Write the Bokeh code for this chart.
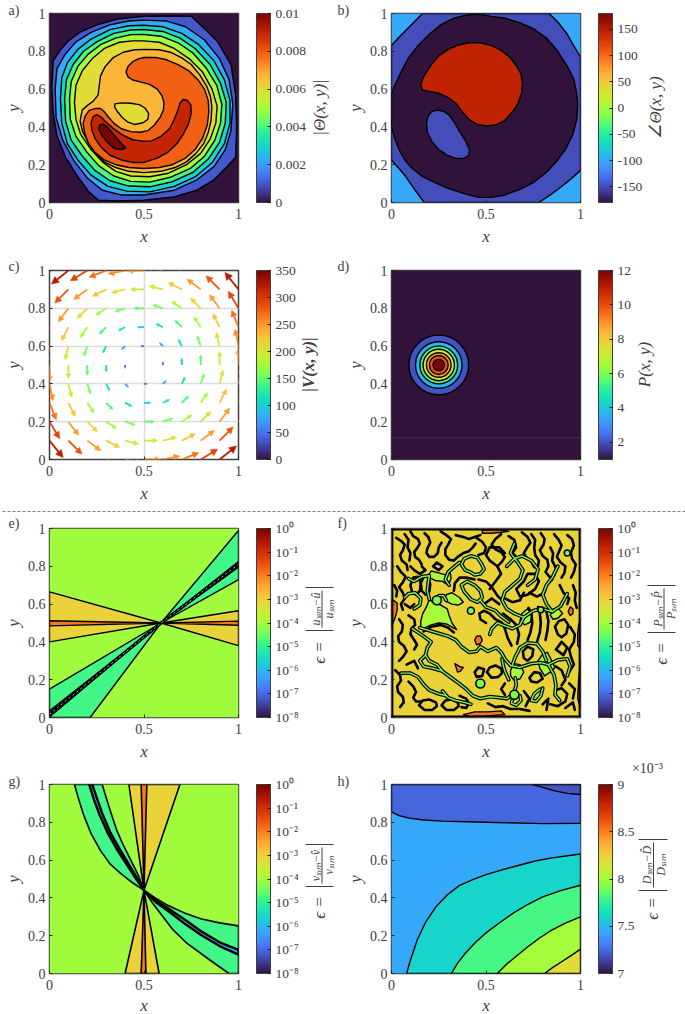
from bokeh.plotting import figure
from bokeh.core.properties import value
from bokeh.models import (ColumnDataSource, LinearColorMapper, LogColorMapper, ColorBar, FixedTicker,
                          LinearAxis, Range1d, Grid)
from bokeh.palettes import Turbo256
from bokeh.layouts import column, row
from bokeh.transform import transform
from bokeh.embed import file_html
from bokeh.resources import INLINE

SQUARE = [(0, 0), (1, 0), (1, 1), (0, 1)]

# ---------- panel a : |Theta| contour regions
A_VALUES = [0.001, 0.0022, 0.003, 0.004, 0.005, 0.006, 0.0067, 0.0079, 0.009, 0.01, 0.006]
A_R1 = [(.02,.75),(.06,.81),(.10,.855),(.16,.90),(.25,.94),(.36,.97),(.5,.985),(.64,.987),(.75,.985),(.82,.92),(.89,.85),(.96,.73),(.985,.57),(.99,.40),(.985,.24),(.94,.19),(.87,.12),(.78,.065),(.66,.03),(.5,.012),(.36,.008),(.26,.012),(.21,.055),(.15,.135),(.085,.24),(.04,.35),(.02,.47),(.012,.61)]
A_R2 = [(.03,.60),(.04,.71),(.08,.78),(.14,.85),(.22,.90),(.32,.94),(.42,.96),(.5,.965),(.62,.96),(.72,.93),(.82,.86),(.90,.76),(.95,.65),(.97,.52),(.96,.38),(.93,.28),(.87,.19),(.78,.12),(.66,.065),(.5,.04),(.38,.04),(.28,.065),(.20,.13),(.13,.22),(.07,.33),(.035,.45)]
A_R3 = [(.058,.55),(.065,.66),(.095,.74),(.15,.81),(.22,.865),(.32,.915),(.42,.935),(.5,.938),(.6,.93),(.7,.895),(.79,.835),(.87,.75),(.925,.65),(.955,.54),(.955,.42),(.925,.31),(.86,.21),(.77,.135),(.66,.085),(.53,.056),(.41,.06),(.31,.085),(.22,.145),(.15,.225),(.095,.31),(.065,.42)]
A_R4 = [(.08,.55),(.09,.65),(.125,.73),(.18,.80),(.25,.85),(.34,.895),(.43,.913),(.5,.915),(.6,.905),(.69,.87),(.77,.815),(.85,.73),(.905,.63),(.935,.53),(.93,.42),(.9,.32),(.84,.23),(.76,.16),(.65,.11),(.53,.083),(.42,.087),(.32,.115),(.24,.17),(.17,.25),(.115,.33),(.085,.43)]
A_R5 = [(.106,.55),(.115,.64),(.15,.72),(.205,.785),(.27,.835),(.35,.87),(.43,.888),(.5,.889),(.59,.88),(.68,.845),(.76,.79),(.83,.71),(.885,.62),(.912,.52),(.905,.42),(.875,.33),(.82,.245),(.745,.18),(.645,.135),(.53,.108),(.43,.112),(.34,.14),(.26,.195),(.195,.27),(.14,.35),(.11,.44)]
A_R6 = [(.132,.53),(.14,.62),(.175,.70),(.23,.765),(.29,.815),(.37,.848),(.44,.855),(.5,.855),(.58,.848),(.66,.815),(.74,.76),(.81,.69),(.86,.60),(.887,.51),(.88,.42),(.85,.335),(.80,.26),(.725,.20),(.63,.155),(.53,.136),(.43,.14),(.35,.165),(.28,.215),(.22,.28),(.165,.36),(.14,.44)]
A_R7 = [(.173,.489),(.196,.51),(.23,.535),(.257,.568),(.262,.61),(.27,.67),(.295,.72),(.335,.765),(.39,.795),(.45,.808),(.51,.81),(.58,.808),(.64,.795),(.70,.765),(.75,.73),(.795,.675),(.832,.615),(.852,.56),(.859,.505),(.855,.435),(.84,.37),(.815,.31),(.775,.26),(.725,.215),(.665,.185),(.59,.165),(.5,.158),(.42,.165),(.35,.185),(.29,.215),(.245,.26),(.205,.32),(.175,.375),(.162,.43)]
A_R8 = [(.5,.767),(.56,.768),(.62,.755),(.68,.73),(.74,.695),(.785,.65),(.82,.60),(.84,.54),(.843,.48),(.835,.41),(.81,.34),(.77,.28),(.72,.235),(.65,.20),(.58,.185),(.5,.18),(.42,.185),(.35,.20),(.29,.225),(.24,.265),(.205,.315),(.185,.37),(.178,.42),(.19,.46),(.21,.487),(.24,.497),(.27,.497),(.29,.48),(.31,.455),(.34,.42),(.38,.39),(.43,.375),(.48,.372),(.52,.38),(.555,.41),(.585,.45),(.603,.49),(.605,.53),(.595,.565),(.57,.60),(.53,.625),(.48,.638),(.44,.648),(.415,.665),(.405,.69),(.415,.72),(.44,.745),(.47,.76)]
A_R9 = [(.707,.545),(.73,.54),(.748,.515),(.75,.47),(.735,.415),(.71,.365),(.675,.312),(.625,.265),(.57,.235),(.5,.212),(.44,.212),(.38,.225),(.32,.25),(.275,.29),(.243,.335),(.225,.38),(.22,.42),(.23,.455),(.25,.465),(.27,.455),(.30,.425),(.34,.39),(.39,.355),(.44,.332),(.49,.325),(.54,.326),(.59,.35),(.635,.39),(.66,.44),(.68,.49),(.69,.525)]
A_R10 = [(.265,.41),(.285,.415),(.305,.40),(.33,.37),(.36,.335),(.402,.288),(.38,.28),(.345,.285),(.31,.315),(.28,.35),(.262,.385)]
A_R11 = [(.346,.522),(.38,.527),(.43,.525),(.475,.518),(.505,.50),(.525,.47),(.52,.44),(.495,.422),(.45,.413),(.415,.425),(.385,.45),(.36,.48),(.345,.505)]
A_RINGS = [A_R1, A_R2, A_R3, A_R4, A_R5, A_R6, A_R7, A_R8, A_R9, A_R10, A_R11]

# ---------- panel b : phase regions
B_BASE = -101
B_VALUES = [-150, -180, 145, -150]
B_R1 = [(0,.832),(.05,.885),(.10,.935),(.164,1),(.834,1),(.88,.955),(.93,.89),(.97,.82),(1,.77),(1,.17),(.95,.125),(.90,.085),(.84,.04),(.78,0),(.173,0),(.125,.065),(.076,.136),(.04,.18),(0,.224)]
B_R2 = [(0,.577),(.02,.625),(.05,.69),(.09,.765),(.14,.83),(.2,.89),(.26,.94),(.33,.975),(.40,.992),(.46,.997),(.53,.985),(.60,.975),(.68,.95),(.75,.92),(.82,.87),(.88,.80),(.93,.72),(.965,.65),(.98,.58),(.985,.52),(.98,.44),(.96,.36),(.92,.28),(.875,.22),(.82,.16),(.75,.105),(.68,.07),(.60,.04),(.53,.027),(.46,.028),(.38,.048),(.30,.075),(.23,.105),(.16,.14),(.11,.18),(.07,.225),(.04,.28),(.02,.33),(0,.40)]
B_R3 = [(.155,.62),(.165,.655),(.185,.69),(.215,.735),(.255,.78),(.30,.81),(.35,.832),(.41,.845),(.47,.845),(.53,.83),(.58,.805),(.625,.77),(.66,.725),(.685,.68),(.693,.63),(.688,.58),(.67,.525),(.64,.48),(.60,.435),(.55,.41),(.5,.405),(.45,.415),(.41,.44),(.375,.48),(.34,.525),(.30,.555),(.25,.578),(.20,.588),(.165,.595)]
B_R4 = [(.243,.489),(.275,.483),(.305,.462),(.335,.42),(.36,.375),(.39,.33),(.412,.28),(.41,.25),(.385,.235),(.34,.233),(.295,.25),(.25,.28),(.215,.32),(.19,.37),(.185,.42),(.195,.46),(.215,.483)]
B_RINGS = [B_R1, B_R2, B_R3, B_R4]

# ---------- panel c : velocity field on a regular grid
C_X = [0, .1, .2, .3, .4, .5, .6, .7, .8, .9, 1]
C_Y = [0, .1, .2, .3, .4, .5, .6, .7, .8, .9, 1]
C_U_BY_ROW = [250, 200, 150, 100, 50, 0, -50, -100, -150, -200, -250]
C_V_BY_COL = [-250, -200, -150, -100, -50, 0, 50, 100, 150, 200, 250]
C_ARROW_SCALE = 0.00036

# ---------- panel d : concentric pressure levels
D_CENTER_X = [.25]
D_CENTER_Y = [.5]
D_RADII = [.158, .123, .1, .083, .065, .05, .03]
D_VALUES = [2.0, 3.7, 5.4, 7.5, 8.7, 10.0, 12.0]
D_FAINT_Y = .115

# ---------- panel e : relative error of u
E_VALUES = [9e-4, 9e-4, 1.2e-2, 1.2e-2, 1.5e-5, 1.5e-5, 1e-6, 1e-6]
E_R1 = [(0,.665),(.59,.5),(0,.40)]
E_R2 = [(1,.565),(.59,.5),(1,.38)]
E_R3 = [(0,.512),(.59,.5),(0,.485)]
E_R4 = [(1,.51),(.59,.5),(1,.488)]
E_R5 = [(0,.15),(.59,.5),(.215,0),(0,0)]
E_R6 = [(1,.99),(.59,.5),(1,.73)]
E_R7 = [(0,.035),(.59,.5),(0,.003)]
E_R8 = [(1,.825),(.59,.5),(1,.795)]
E_RINGS = [E_R1, E_R2, E_R3, E_R4, E_R5, E_R6, E_R7, E_R8]
E_CORE_X = [0, .59, 1]
E_CORE_Y = [.017, .5, .81]

# ---------- panel f : relative error of P
F_BLOBS_VALUES = [1.2e-4, 1.2e-4, 1.2e-4, 1.2e-4, 1.2e-4, 1.2e-4, 1.2e-4, 1.2e-2, 1.2e-2, 1.2e-2, 1.2e-2, 1.2e-2, 1.2e-2, 1.2e-2, 1.2e-2]
F_BLOBS = [
 [(.155,.47),(.155,.51),(.165,.55),(.185,.585),(.20,.625),(.225,.605),(.26,.595),(.295,.575),(.305,.54),(.32,.50),(.345,.465),(.325,.475),(.29,.495),(.25,.50),(.21,.49),(.18,.475)],
 [(.28,.62),(.32,.60),(.355,.595),(.38,.61),(.36,.635),(.32,.66),(.29,.65)],
 [(.19,.745),(.21,.775),(.25,.765),(.285,.755),(.31,.77),(.315,.735),(.30,.70),(.27,.72),(.23,.725)],
 [(.775,.30),(.80,.335),(.825,.345),(.845,.305),(.865,.265),(.84,.24),(.81,.22),(.785,.26)],
 [(.63,.25),(.65,.285),(.68,.28),(.70,.24),(.68,.205),(.65,.195),(.63,.22)],
 [(.68,.51),(.69,.55),(.72,.575),(.745,.54),(.735,.505),(.705,.49)],
 [(.84,.54),(.855,.575),(.885,.575),(.905,.55),(.88,.525),(.855,.52)],
 [(.0,.48),(.02,.53),(.03,.57),(.03,.605),(.01,.62),(0,.62)],
 [(.985,.38),(.985,.44),(.99,.49),(1,.52),(1,.36)],
 [(.48,.975),(.53,.975),(.58,.98),(.62,.985),(.56,.995),(.48,.99)],
 [(.38,.015),(.44,.03),(.51,.03),(.58,.035),(.60,.015),(.5,.008),(.42,.005)],
 [(.44,.41),(.45,.43),(.47,.432),(.48,.41),(.47,.39),(.45,.385)],
 [(.335,.285),(.36,.27),(.38,.265),(.365,.245),(.35,.24)],
 [(.935,.56),(.945,.585),(.96,.575),(.96,.55),(.945,.54)],
 [(.985,.1),(.99,.2),(1,.3),(1,.05)],
]
F_TUBES = [
 [(.15,.475),(.2,.46),(.25,.445),(.3,.43),(.34,.41),(.37,.375),(.41,.345),(.45,.35),(.47,.375),(.51,.35),(.555,.37),(.58,.345),(.6,.31),(.63,.275)],
 [(.18,.33),(.15,.30),(.17,.27),(.22,.26),(.27,.245),(.31,.215),(.35,.185),(.39,.155),(.43,.115),(.47,.1),(.52,.11),(.57,.105),(.61,.10),(.645,.125),(.66,.17),(.655,.21)],
 [(.27,.245),(.24,.28),(.20,.30),(.18,.33),(.19,.37),(.21,.40),(.17,.43),(.11,.47)],
 [(.05,.235),(.10,.235),(.14,.215),(.17,.175),(.20,.145),(.25,.125),(.29,.115)],
 [(.63,.275),(.68,.265),(.74,.285),(.79,.29),(.83,.28),(.86,.225),(.87,.17),(.865,.12),(.89,.09)],
 [(.82,.30),(.80,.35),(.77,.39),(.72,.395),(.68,.37),(.655,.32),(.64,.28)],
 [(.83,.28),(.88,.305),(.93,.31),(.945,.27),(.93,.22)],
 [(.70,.53),(.65,.55),(.61,.575),(.585,.62),(.60,.665),(.64,.70),(.68,.735),(.695,.78),(.665,.825),(.63,.87),(.65,.92)],
 [(.70,.53),(.75,.565),(.80,.575),(.85,.56),(.895,.59),(.93,.655)],
 [(.70,.53),(.68,.49),(.64,.47),(.60,.485),(.56,.50),(.53,.47),(.52,.44)],
 [(.85,.56),(.82,.60),(.80,.65),(.82,.70),(.85,.74),(.88,.80)],
 [(.20,.625),(.19,.67),(.195,.715),(.20,.75),(.16,.745),(.12,.72),(.09,.735)],
 [(.305,.70),(.285,.73),(.30,.77),(.335,.80),(.36,.82)],
 [(.37,.81),(.385,.84),(.42,.855),(.455,.845),(.475,.815),(.49,.785),(.47,.76),(.44,.755),(.415,.77),(.39,.78),(.37,.81)],
 [(.37,.70),(.385,.665),(.42,.625),(.455,.61),(.48,.635),(.47,.67),(.44,.70),(.40,.72),(.37,.70)],
 [(.61,.80),(.65,.84),(.69,.855),(.74,.83),(.775,.785),(.76,.73),(.72,.70)],
 [(.12,.575),(.15,.595),(.155,.63),(.125,.66),(.09,.655),(.07,.635)],
 [(.665,.12),(.64,.10),(.635,.075),(.66,.065),(.685,.09),(.68,.115)],
 [(.785,.15),(.755,.125),(.74,.09),(.765,.085),(.79,.115),(.80,.155)],
 [(.62,.20),(.60,.245),(.59,.28),(.585,.31)],
 [(.27,.14),(.30,.105),(.34,.09),(.385,.08),(.42,.07)],
 [(.235,.615),(.25,.645),(.275,.645),(.29,.62)],
 [(.47,.62),(.50,.585),(.55,.565),(.58,.535),(.62,.505)],
]
F_LINES = [
 [(.10,.985),(.115,.96),(.14,.945),(.15,.92),(.135,.895),(.12,.875),(.125,.85),(.145,.835),(.16,.81)],
 [(.175,.975),(.195,.955),(.205,.925),(.19,.895),(.185,.87),(.2,.85),(.225,.85),(.245,.87),(.25,.9),(.265,.925)],
 [(.26,.985),(.29,.965),(.315,.945),(.30,.915),(.285,.89),(.285,.86),(.305,.835),(.33,.83),(.35,.85),(.38,.87),(.41,.88),(.43,.90),(.445,.92)],
 [(.34,.965),(.38,.955),(.41,.945),(.44,.955),(.47,.965)],
 [(.58,.97),(.55,.945),(.53,.915),(.55,.89),(.58,.875),(.60,.85),(.585,.825),(.56,.80)],
 [(.69,.98),(.72,.955),(.735,.925),(.715,.895),(.70,.87),(.715,.845),(.74,.825),(.755,.795)],
 [(.79,.975),(.81,.945),(.805,.915),(.785,.885),(.80,.855),(.825,.835),(.83,.80),(.815,.77),(.84,.74)],
 [(.86,.97),(.885,.94),(.90,.91),(.885,.875),(.875,.85),(.895,.82),(.92,.80),(.915,.765),(.90,.74)],
 [(.93,.965),(.955,.945),(.965,.91),(.95,.875),(.955,.84),(.975,.81),(.965,.77),(.95,.74)],
 [(.025,.95),(.05,.935),(.07,.915),(.06,.885),(.045,.86),(.055,.83),(.08,.81),(.085,.78)],
 [(.11,.66),(.10,.70),(.115,.74),(.14,.745),(.155,.71),(.15,.67),(.13,.65),(.11,.66)],
 [(.16,.67),(.155,.71),(.17,.745),(.195,.745),(.205,.705),(.2,.665),(.18,.65),(.16,.67)],
 [(.04,.52),(.06,.49),(.055,.455),(.035,.43),(.04,.40),(.065,.38),(.08,.35),(.06,.32),(.04,.30)],
 [(.09,.54),(.12,.52),(.125,.49),(.105,.47),(.10,.44),(.12,.41),(.135,.385),(.12,.36)],
 [(.02,.25),(.045,.225),(.05,.195),(.03,.165),(.035,.135),(.06,.11),(.065,.08),(.045,.055)],
 [(.09,.19),(.115,.165),(.13,.135),(.115,.105),(.13,.085),(.16,.085)],
 [(.145,.065),(.165,.09),(.2,.095),(.235,.08),(.24,.06),(.215,.04),(.175,.04),(.145,.065)],
 [(.265,.065),(.285,.09),(.32,.095),(.35,.08),(.355,.06),(.33,.04),(.29,.04),(.265,.065)],
 [(.505,.24),(.52,.265),(.55,.275),(.58,.26),(.585,.235),(.565,.215),(.53,.21),(.505,.24)],
 [(.72,.41),(.735,.45),(.745,.50),(.74,.55),(.725,.58)],
 [(.77,.40),(.785,.45),(.79,.50),(.785,.55),(.775,.585)],
 [(.815,.41),(.825,.46),(.83,.51),(.82,.56)],
 [(.635,.38),(.615,.42),(.60,.47),(.585,.50),(.55,.52),(.52,.55),(.49,.565),(.465,.55),(.47,.52),(.50,.50)],
 [(.665,.39),(.675,.44),(.66,.49),(.63,.52),(.59,.55)],
 [(.52,.68),(.55,.72),(.58,.76),(.56,.80),(.52,.83),(.50,.86),(.52,.90),(.57,.90),(.60,.87)],
 [(.66,.68),(.70,.72),(.72,.76),(.76,.76),(.78,.72),(.76,.68),(.72,.65),(.68,.64),(.66,.68)],
 [(.73,.66),(.77,.64),(.81,.66),(.82,.70),(.85,.73)],
 [(.60,.63),(.64,.61),(.68,.62),(.70,.66)],
 [(.17,.455),(.21,.48),(.26,.49),(.30,.475),(.33,.45)],
 [(.88,.44),(.865,.48),(.885,.51),(.915,.52),(.935,.49),(.925,.445),(.90,.425),(.88,.44)],
 [(.94,.24),(.965,.28),(.95,.32),(.94,.36),(.965,.40),(.97,.44),(.945,.48)],
 [(.84,.07),(.88,.06),(.92,.085),(.93,.125),(.90,.155),(.87,.145)],
 [(.51,.075),(.55,.055),(.59,.06),(.63,.045),(.68,.045),(.73,.035)],
 [(.36,.115),(.395,.10),(.41,.075),(.395,.05),(.37,.055)],
 [(.72,.30),(.745,.325),(.75,.36),(.72,.375),(.695,.35),(.70,.315),(.72,.30)],
 [(.73,.21),(.755,.24),(.785,.235),(.80,.205),(.77,.185),(.74,.19),(.73,.21)],
 [(.03,.80),(.05,.77),(.075,.745),(.06,.715),(.04,.69),(.06,.66),(.07,.63),(.05,.60),(.06,.57)],
 [(.44,.24),(.46,.265),(.49,.255),(.48,.22),(.45,.215),(.44,.24)],
 [(.33,.67),(.335,.71),(.36,.74),(.40,.74),(.44,.73)],
 [(.46,.73),(.50,.72),(.53,.69),(.56,.645),(.585,.62)],
 [(.07,.97),(.09,.94),(.085,.90),(.10,.87),(.095,.83)],
 [(.10,.80),(.12,.78),(.15,.76),(.18,.78),(.16,.80)],
 [(.22,.80),(.25,.78),(.27,.80),(.24,.82),(.22,.80)],
 [(.45,.95),(.48,.93),(.50,.90),(.49,.87),(.46,.86)],
 [(.62,.96),(.65,.94),(.66,.90),(.64,.87),(.66,.85)],
 [(.74,.97),(.76,.94),(.755,.90),(.76,.86),(.78,.83),(.775,.80)],
 [(.84,.90),(.855,.87),(.85,.83),(.87,.79),(.86,.75)],
 [(.89,.70),(.91,.66),(.94,.63),(.93,.60)],
 [(.96,.70),(.975,.66),(.97,.62),(.98,.58)],
 [(.70,.14),(.73,.10),(.71,.06)],
 [(.80,.07),(.83,.10),(.82,.04)],
 [(.92,.05),(.96,.08),(.97,.04)],
 [(.94,.18),(.97,.15),(.96,.10)],
 [(.60,.18),(.58,.15),(.60,.12)],
 [(.87,.36),(.90,.40),(.93,.37),(.91,.33),(.87,.36)],
 [(.87,.27),(.90,.25),(.92,.20),(.90,.17)],
 [(.49,.60),(.53,.63),(.57,.60)],
 [(.015,.70),(.03,.67),(.025,.64)],
 [(.08,.28),(.12,.30),(.14,.26)],
 [(.07,.60),(.10,.58),(.12,.60)],
]
F_RINGS_X = [.42, .47, .65, .24, .93, .79]
F_RINGS_Y = [.565, .18, .12, .62, .87, .57]
F_RINGS_SIZE = [7, 9, 9, 9, 6, 6]
F_EDGE_X = [.5, .5, .005, .995]
F_EDGE_Y = [.005, .995, .5, .5]

# ---------- panel g : relative error of v
G_VALUES = [9e-4, 9e-4, 1.2e-2, 1.2e-2, 1.5e-5, 1.5e-5]
G_CORE_VALUES = [1e-6, 1e-6]
G_R1 = [(.42,1),(.5,.44),(.69,1)]
G_R2 = [(.40,0),(.5,.44),(.58,0)]
G_R3 = [(.485,1),(.5,.44),(.515,1)]
G_R4 = [(.485,0),(.5,.44),(.51,0)]
G_R5 = [(.132,1),(.155,.92),(.18,.84),(.22,.74),(.27,.65),(.32,.58),(.376,.53),(.44,.48),(.5,.44),(.47,.52),(.43,.60),(.39,.68),(.355,.76),(.325,.85),(.30,.93),(.279,1)]
G_R6 = [(.5,.44),(.56,.40),(.623,.362),(.71,.322),(.8,.29),(.9,.268),(1,.252),(1,0),(.949,0),(.85,.07),(.728,.159),(.65,.235),(.587,.317),(.54,.38)]
G_R7 = [(.21,1),(.235,.92),(.265,.84),(.31,.74),(.355,.66),(.40,.59),(.445,.52),(.5,.44),(.452,.525),(.41,.595),(.365,.67),(.32,.75),(.278,.85),(.25,.93),(.226,1)]
G_R8 = [(.5,.44),(.58,.375),(.65,.33),(.73,.275),(.8,.225),(.9,.165),(1,.125),(1,.10),(.9,.145),(.8,.205),(.72,.26),(.635,.325),(.56,.38)]
G_RINGS = [G_R1, G_R2, G_R3, G_R4, G_R5, G_R6]
G_CORES = [G_R7, G_R8]

# ---------- panel h : relative error of D
H_BASE = 7.44
H_VALUES = [7.24, 7.18, 7.6, 7.8, 8.0, 8.2]
H_R1 = [(0,.855),(.04,.835),(.093,.822),(.17,.812),(.27,.806),(.5,.80),(.8,.793),(1,.795),(1,1),(0,1)]
H_R2 = [(.746,1),(.80,.985),(.87,.965),(.93,.953),(1,.947),(1,1)]
H_R3 = [(.08,0),(.10,.07),(.137,.18),(.18,.27),(.235,.353),(.295,.415),(.358,.465),(.43,.497),(.5,.523),(.59,.55),(.675,.573),(.76,.595),(.85,.612),(1,.632),(1,0)]
H_R4 = [(.317,0),(.35,.055),(.393,.11),(.445,.165),(.5,.215),(.57,.267),(.64,.317),(.72,.365),(.8,.405),(.9,.44),(1,.467),(1,0)]
H_R5 = [(.56,0),(.61,.05),(.658,.09),(.72,.14),(.78,.185),(.84,.225),(.92,.267),(1,.30),(1,0)]
H_R6 = [(.81,0),(.85,.03),(.9,.062),(.95,.095),(1,.129),(1,0)]
H_RINGS = [H_R1, H_R2, H_R3, H_R4, H_R5, H_R6]

# ---------- tick labels
X_TICKS = [0, .5, 1]
X_LABELS = ["0", "0.5", "1"]
Y_TICKS = [0, .2, .4, .6, .8, 1]
Y_LABELS = ["0", "0.2", "0.4", "0.6", "0.8", "1"]
CB_A_TICKS = [0, .002, .004, .006, .008, .01]
CB_A_LABELS = ["0", "0.002", "0.004", "0.006", "0.008", "0.01"]
CB_B_TICKS = [-150, -100, -50, 0, 50, 100, 150]
CB_C_TICKS = [0, 50, 100, 150, 200, 250, 300, 350]
CB_D_TICKS = [2, 4, 6, 8, 10, 12]
CB_E_TICKS = [1e-8, 1e-7, 1e-6, 1e-5, 1e-4, 1e-3, 1e-2, 1e-1, 1]
CB_E_LABELS = ["10⁻⁸", "10⁻⁷", "10⁻⁶", "10⁻⁵", "10⁻⁴", "10⁻³", "10⁻²", "10⁻¹", "10⁰"]
CB_H_TICKS = [7, 7.5, 8, 8.5, 9]
CB_H_LABELS = ["7", "7.5", "8", "8.5", "9"]

SERIF = "'Liberation Serif', serif"
GREY = "#404040"
FRAME = 189
LEFT_COL = (335, 49)
RIGHT_COL = (350, 56)
ROWS = {1: (258, 13), 2: (257, 12), 3: (247, 13), 4: (252, 22)}

# a transparent sheet over the whole page carries the free texts and the separator
sheet = figure(width=685, height=1014, x_range=Range1d(0, 685), y_range=Range1d(1014, 0),
               output_backend="svg", toolbar_location=None, min_border=0,
               x_axis_type=None, y_axis_type=None, outline_line_color=None,
               background_fill_color=None, border_fill_color=None,
               styles={"position": "absolute", "left": "0px", "top": "0px", "pointer-events": "none"})


def place(text, ix, iy, size, angle=0, style="normal", align="center"):
    sheet.text(x=[ix], y=[iy], text=[text], angle=angle, angle_units="deg",
               text_font=value(SERIF), text_font_size=value(f"{size}px"), text_font_style=style,
               text_color=GREY, text_align=align, text_baseline="middle")


def bar(x0, x1, y0, y1):
    sheet.segment(x0=[x0], y0=[y0], x1=[x1], y1=[y1], line_color=GREY, line_width=1)


def panel(col, rw, mapper, cb_ticks, cb_labels):
    w, lb = (LEFT_COL, RIGHT_COL)[col]
    h, tb = ROWS[rw]
    p = figure(frame_width=FRAME, frame_height=FRAME, x_range=Range1d(0, 1), y_range=Range1d(0, 1),
               output_backend="svg", toolbar_location=None,
               min_border_left=lb, min_border_right=w - lb - FRAME,
               min_border_top=tb, min_border_bottom=h - tb - FRAME,
               x_axis_type=None, y_axis_type=None)
    p.outline_line_color = GREY
    p.outline_line_width = 1.5
    xa = LinearAxis(ticker=FixedTicker(ticks=X_TICKS),
                    major_label_overrides=dict(zip(X_TICKS, X_LABELS)))
    ya = LinearAxis(ticker=FixedTicker(ticks=Y_TICKS), axis_label="y",
                    major_label_overrides=dict(zip(Y_TICKS, Y_LABELS)))
    for ax in (xa, ya):
        ax.major_label_text_font = SERIF
        ax.major_label_text_font_size = "14px"
        ax.major_label_text_color = GREY
        ax.axis_label_text_font = SERIF
        ax.axis_label_text_font_style = "italic"
        ax.axis_label_text_font_size = "17px"
        ax.axis_label_text_color = GREY
        ax.axis_line_color = None
        ax.major_tick_in = 3
        ax.major_tick_out = 0
        ax.major_tick_line_color = "#262626"
        ax.minor_tick_line_color = None
    xa.major_label_standoff = 6
    ya.major_label_standoff = 4
    ya.axis_label_standoff = 2
    p.add_layout(xa, "below")
    p.add_layout(ya, "left")
    cb = ColorBar(color_mapper=mapper, ticker=FixedTicker(ticks=cb_ticks),
                  major_label_overrides=dict(zip(cb_ticks, cb_labels)),
                  width=14, height=FRAME, margin=0, padding=0, location=(18, 0),
                  major_label_text_font=SERIF, major_label_text_font_size="13.5px",
                  major_label_text_color=GREY, major_tick_in=3, major_tick_line_color="#1a1a1a",
                  minor_tick_line_color=None, bar_line_color=GREY, bar_line_width=1,
                  border_line_color=None, background_fill_color=None, label_standoff=5)
    p.add_layout(cb, "right")
    return p


def regions(p, rings, values, mapper, width=1.4):
    src = ColumnDataSource(dict(xs=[[q[0] for q in r] for r in rings],
                                ys=[[q[1] for q in r] for r in rings], val=list(values)))
    p.patches("xs", "ys", source=src, fill_color=transform("val", mapper),
              line_color="black", line_width=width, line_join="round")


def base(p, level, mapper):
    src = ColumnDataSource(dict(xs=[[q[0] for q in SQUARE]], ys=[[q[1] for q in SQUARE]], val=[level]))
    p.patches("xs", "ys", source=src, fill_color=transform("val", mapper), line_color=None)


def fraction(num, den, eps_x, eps_y, bx0, bx1, by0, by1, nx, dx):
    place("ϵ =", eps_x, eps_y, 17, angle=90, style="italic")
    mid = (by0 + by1) / 2
    bar(bx0, bx1, by0, by0)
    bar(bx0, bx1, by1, by1)
    bar((nx + dx) / 2, (nx + dx) / 2, by0 + 3, by1 - 3)
    place(num, nx, mid, 12, angle=90, style="italic")
    place(den, dx, mid, 12, angle=90, style="italic")


# ----- a
ma = LinearColorMapper(palette=Turbo256, low=0, high=.01)
pa = panel(0, 1, ma, CB_A_TICKS, CB_A_LABELS)
base(pa, 0, ma)
regions(pa, A_RINGS, A_VALUES, ma)

# ----- b
mb = LinearColorMapper(palette=Turbo256, low=-180, high=180)
pb = panel(1, 1, mb, CB_B_TICKS, [str(t) for t in CB_B_TICKS])
base(pb, B_BASE, mb)
regions(pb, B_RINGS, B_VALUES, mb)

# ----- c
mc = LinearColorMapper(palette=Turbo256, low=0, high=350)
pc = panel(0, 2, mc, CB_C_TICKS, [str(t) for t in CB_C_TICKS])
pc.add_layout(Grid(dimension=0, ticker=FixedTicker(ticks=X_TICKS), grid_line_color="#dcdcdc", grid_line_width=1.5))
pc.add_layout(Grid(dimension=1, ticker=FixedTicker(ticks=Y_TICKS), grid_line_color="#dcdcdc", grid_line_width=1.5))
x0s, y0s, x1s, y1s, mags, hx, hy = [], [], [], [], [], [], []
for j, gy in enumerate(C_Y):
    for i, gx in enumerate(C_X):
        u = C_U_BY_ROW[j] * C_ARROW_SCALE
        v = C_V_BY_COL[i] * C_ARROW_SCALE
        if u == 0 and v == 0:
            continue
        ex, ey = gx + u, gy + v
        x0s.append(gx); y0s.append(gy)
        x1s.append(gx + .68 * u); y1s.append(gy + .68 * v)
        mags.append((C_U_BY_ROW[j] ** 2 + C_V_BY_COL[i] ** 2) ** .5)
        hx.append([ex, gx + .66 * u - .17 * v, gx + .66 * u + .17 * v])
        hy.append([ey, gy + .66 * v + .17 * u, gy + .66 * v - .17 * u])
csrc = ColumnDataSource(dict(x0=x0s, y0=y0s, x1=x1s, y1=y1s, mag=mags, hx=hx, hy=hy))
pc.segment("x0", "y0", "x1", "y1", source=csrc, line_color=transform("mag", mc), line_width=1.8)
pc.patches("hx", "hy", source=csrc, fill_color=transform("mag", mc), line_color=transform("mag", mc), line_width=.5)

# ----- d
md = LinearColorMapper(palette=Turbo256, low=1, high=12)
pd_ = panel(1, 2, md, CB_D_TICKS, [str(t) for t in CB_D_TICKS])
base(pd_, 1, md)
pd_.segment(x0=[0], y0=[D_FAINT_Y], x1=[1], y1=[D_FAINT_Y], line_color="#4b2b63", line_width=1)
for rad, val in zip(D_RADII, D_VALUES):
    src = ColumnDataSource(dict(x=D_CENTER_X, y=D_CENTER_Y, r=[rad], val=[val]))
    pd_.circle("x", "y", radius="r", source=src, fill_color=transform("val", md),
               line_color="black", line_width=1.4)

# ----- e
me = LogColorMapper(palette=Turbo256, low=1e-8, high=1)
pe = panel(0, 3, me, CB_E_TICKS, CB_E_LABELS)
base(pe, 1e-4, me)
regions(pe, E_RINGS, E_VALUES, me)
pe.line(E_CORE_X, E_CORE_Y, line_color="black", line_width=3.4)
pe.line(E_CORE_X, E_CORE_Y, line_color="#7fc8f0", line_width=1, line_dash="2 3")

# ----- f
mf = LogColorMapper(palette=Turbo256, low=1e-8, high=1)
pf = panel(1, 3, mf, CB_E_TICKS, CB_E_LABELS)
base(pf, 9e-4, mf)
regions(pf, F_BLOBS, F_BLOBS_VALUES, mf, width=1.4)
tx = [[q[0] for q in c] for c in F_TUBES]
ty = [[q[1] for q in c] for c in F_TUBES]
lx = [[q[0] for q in c] for c in F_LINES]
ly = [[q[1] for q in c] for c in F_LINES]
pf.multi_line(lx, ly, line_color="black", line_width=2.6, line_join="round", line_cap="round")
pf.multi_line(tx, ty, line_color="black", line_width=3.8, line_join="round", line_cap="round")
pf.multi_line(tx, ty, line_color="#7cf94f", line_width=1.4, line_join="round", line_cap="round")
pf.scatter(F_RINGS_X, F_RINGS_Y, size=F_RINGS_SIZE, marker="circle", fill_color="#7cf94f",
           line_color="black", line_width=1.6)
pf.rect(F_EDGE_X, F_EDGE_Y, [1, 1, .01, .01], [.01, .01, 1, 1], fill_color="black", line_color=None)

# ----- g
mg = LogColorMapper(palette=Turbo256, low=1e-8, high=1)
pg = panel(0, 4, mg, CB_E_TICKS, CB_E_LABELS)
base(pg, 1e-4, mg)
regions(pg, G_RINGS, G_VALUES, mg, width=1.6)
regions(pg, G_CORES, G_CORE_VALUES, mg, width=2.4)

# ----- h
mh = LinearColorMapper(palette=Turbo256, low=7, high=9)
ph = panel(1, 4, mh, CB_H_TICKS, CB_H_LABELS)
base(ph, H_BASE, mh)
regions(ph, H_RINGS, H_VALUES, mh)

# ----- free texts on the sheet
for letter, lx_, ly_ in [("a)", 8, 10), ("b)", 337, 10), ("c)", 8, 266), ("d)", 337, 266),
                         ("e)", 8, 523), ("f)", 337, 523), ("g)", 8, 781), ("h)", 337, 781)]:
    place(letter, lx_, ly_, 14, align="left")
for cx in (143.5, 485.5):
    for cy in (236, 493, 751, 1005):
        place("x", cx, cy, 17, style="italic")
place("|Θ(x, y)|", 319, 107, 17, angle=90, style="italic")
place("∠Θ(x, y)", 655, 107, 17, angle=90, style="italic")
place("|V(x, y)|", 308, 364, 17, angle=90, style="bold italic")
place("P(x, y)", 644, 364, 17, angle=90, style="italic")
place("×10⁻³", 647, 768, 14)
fraction("uₛᵢₘ−û", "uₛᵢₘ", 319, 652, 305, 333, 587, 630, 315, 328)
fraction("Pₛᵢₘ−P̂", "Pₛᵢₘ", 661, 653, 647, 675, 585, 632, 657, 670)
fraction("vₛᵢₘ−v̂", "vₛᵢₘ", 319, 907, 305, 333, 844, 886, 315, 328)
fraction("Dₛᵢₘ−D̂", "Dₛᵢₘ", 652, 908, 638, 667, 839, 890, 646, 660)
sheet.segment(x0=[2], y0=[511], x1=[685], y1=[511], line_color="#808080", line_width=1, line_dash="3 2")

layout = column(row(pa, pb, spacing=0), row(pc, pd_, spacing=0),
                row(pe, pf, spacing=0), row(pg, ph, spacing=0), sheet, spacing=0)
open("out.html", "w").write(file_html(layout, INLINE))
